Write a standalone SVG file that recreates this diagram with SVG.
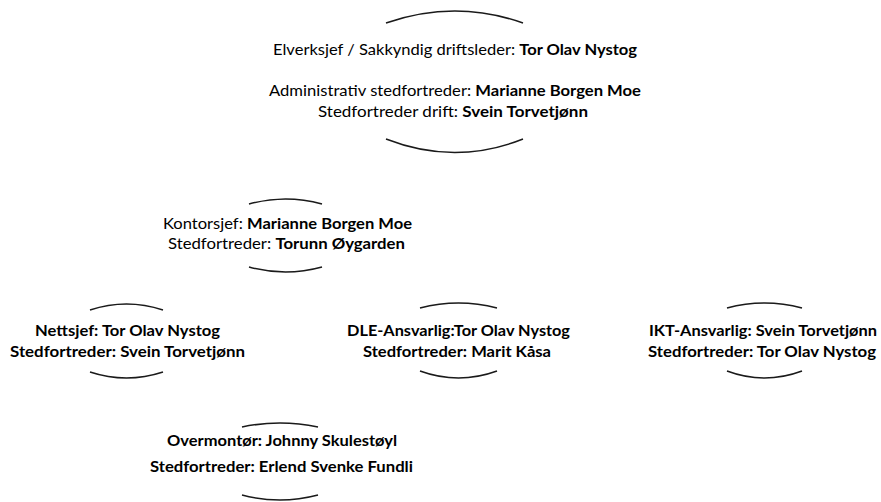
<svg xmlns="http://www.w3.org/2000/svg" width="881" height="502" viewBox="0 0 881 502">
<style>
.arc{fill:none;stroke:#1a1a1a;stroke-width:1.5}
text{font-family:Lato,"Open Sans","Liberation Sans",sans-serif;font-size:15px;fill:#000;text-anchor:middle}
.b{font-weight:bold}
</style>
<rect width="881" height="502" fill="#fff"/>
<g id="connectors"/>
<g id="node-elverksjef">
<path class="arc" d="M386,23 Q455,-1 523,23"/>
<path class="arc" d="M386,139 Q455,166 523,139"/>
<text x="455" y="55" textLength="364" lengthAdjust="spacingAndGlyphs">Elverksjef / Sakkyndig driftsleder: <tspan class="b">Tor Olav Nystog</tspan></text>
<text x="455" y="96" textLength="372" lengthAdjust="spacingAndGlyphs">Administrativ stedfortreder: <tspan class="b">Marianne Borgen Moe</tspan></text>
<text x="453" y="117" textLength="270" lengthAdjust="spacingAndGlyphs">Stedfortreder drift: <tspan class="b">Svein Torvetjønn</tspan></text>
</g>
<g id="node-kontorsjef">
<path class="arc" d="M249,204 Q285.5,194 322,204"/>
<path class="arc" d="M249,267 Q285.5,277 322,267"/>
<text x="287.5" y="229" textLength="249" lengthAdjust="spacingAndGlyphs">Kontorsjef: <tspan class="b">Marianne Borgen Moe</tspan></text>
<text x="286.5" y="249" textLength="237" lengthAdjust="spacingAndGlyphs">Stedfortreder: <tspan class="b">Torunn Øygarden</tspan></text>
</g>
<g id="node-nettsjef">
<path class="arc" d="M90,310 Q126.5,298 163,310"/>
<path class="arc" d="M90,372 Q126.5,384 163,372"/>
<text class="b" x="127.5" y="336" textLength="185" lengthAdjust="spacingAndGlyphs">Nettsjef: Tor Olav Nystog</text>
<text class="b" x="127.5" y="357" textLength="235" lengthAdjust="spacingAndGlyphs">Stedfortreder: Svein Torvetjønn</text>
</g>
<g id="node-dle">
<path class="arc" d="M420,308 Q458.5,298 497,308"/>
<path class="arc" d="M420,371 Q458.5,385 497,371"/>
<text class="b" x="458.5" y="336" textLength="223" lengthAdjust="spacingAndGlyphs">DLE-Ansvarlig:Tor Olav Nystog</text>
<text class="b" x="457" y="357" textLength="188" lengthAdjust="spacingAndGlyphs">Stedfortreder: Marit Kåsa</text>
</g>
<g id="node-ikt">
<path class="arc" d="M727,308 Q764.5,298 802,308"/>
<path class="arc" d="M727,371 Q764.5,385 802,371"/>
<text class="b" x="763" y="336" textLength="228" lengthAdjust="spacingAndGlyphs">IKT-Ansvarlig: Svein Torvetjønn</text>
<text class="b" x="762" y="357" textLength="228" lengthAdjust="spacingAndGlyphs">Stedfortreder: Tor Olav Nystog</text>
</g>
<g id="node-overmontor">
<path class="arc" d="M242,427 Q280,419 318,427"/>
<path class="arc" d="M242,495 Q280,505 318,495"/>
<text class="b" x="282" y="446" textLength="230" lengthAdjust="spacingAndGlyphs">Overmontør: Johnny Skulestøyl</text>
<text class="b" x="281.5" y="472" textLength="263" lengthAdjust="spacingAndGlyphs">Stedfortreder: Erlend Svenke Fundli</text>
</g>
</svg>
